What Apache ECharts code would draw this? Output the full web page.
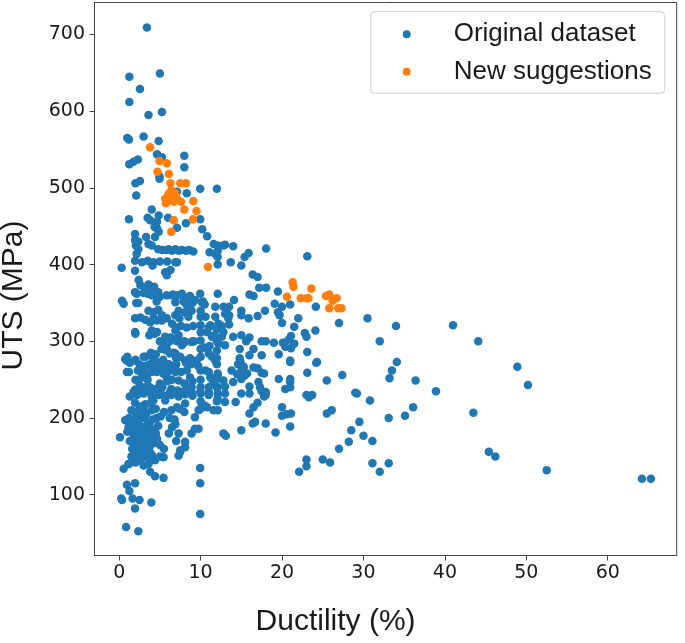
<!DOCTYPE html>
<html>
<head>
<meta charset="utf-8">
<script src="https://cdn.jsdelivr.net/npm/echarts@6/dist/echarts.min.js"></script>
<style>
html,body{margin:0;padding:0;background:#fff;}
#chart{width:685px;height:643px;}
</style>
</head>
<body>
<div id="chart"></div>
<script>
const xTicks = [0, 10, 20, 30, 40, 50, 60];
const yTicks = [100, 200, 300, 400, 500, 600, 700];
const seriesNames = ['Original dataset', 'New suggestions'];
const xTitle = 'Ductility (%)';
const yTitle = 'UTS (MPa)';

const originalPoints = [
[3.4,709],[1.25,645],[5.0,649],[2.55,629],[1.25,612],[3.6,595],[5.25,599],[1.0,565],[1.2,563],[3.0,567],[4.85,561],[4.65,544],[5.25,540],[8.0,542],[2.3,537],[1.75,534],[1.25,531],[4.95,515],[4.95,512],[8.0,527],[2.0,506],[2.55,509],[2.1,490],[9.95,499],[12.0,499],[7.1,495],[8.3,493],[4.0,472],[1.2,459],[3.5,461],[3.8,458],[4.35,449],[4.65,456],[4.85,464],[6.0,461],[9.95,459],[10.2,446],[8.2,454],[7.1,448],[10.8,437],[11.6,427],[11.8,414],[12.8,425],[1.95,440],[2.35,430],[1.95,432],[2.05,425],[2.35,420],[2.15,414],[3.3,436],[3.6,427],[4.4,436],[4.65,447],[4.85,443],[4.0,425],
[4.8,420],[5.3,419],[5.8,419],[6.1,420],[6.5,418],[6.9,420],[7.3,418],[7.7,419],[8.2,418],[8.6,419],[9.1,417],
[1.95,405],[2.8,403],[3.5,405],[4.2,403],[5.0,404],[5.9,404],[6.9,403],[7.1,403],[4.1,399],[5.65,390],[5.85,386],[6.3,393],[0.3,396],[1.95,392],
[12.1,425],[12.1,418],[12.1,410],[12.1,400],[11.1,416],[13.0,426],[14.0,424],[15.9,415],[15.4,410],[15.0,399],[13.7,403],[18.05,421],[23.1,411],[16.4,387],[17.0,384],[17.2,370],[18.05,370],[12.1,362],[19.5,365],[16.0,361],[16.5,359],[14.1,354],[19.1,349],[20.0,345],[21.0,348],[24.15,345],
[2.4,380],[2.6,373],[3.6,374],[4.3,371],[4.8,364],[3.8,362],[1.95,364],[2.15,362],[0.35,353],[0.55,349],[2.35,350],[5.85,360],[6.5,360],[7.7,362],[8.7,359],[9.3,354],[10.15,351],[9.95,362],[6.9,351],[8.1,351],[8.3,347],[3.2,370],
[3.6,340],[4.2,338],[4.8,341],[5.25,334],[5.85,330],[6.9,334],[7.3,340],[8.1,338],[8.9,340],[1.95,330],[2.6,331],[3.2,328],[3.8,325],[4.65,327],[5.25,327],
[10.0,340],[10.0,332],[10.0,321],[10.0,312],[10.0,301],[10.0,290],[10.0,280],[10.6,332],[10.8,312],[11.2,321],[11.8,332],[12.2,323],[12.8,345],[11.4,306],[12.2,297],[12.6,306],
[1.95,312],[4.0,314],[4.35,310],[4.65,312],[6.5,323],[6.9,314],[7.3,308],[7.5,299],[7.7,295],[5.65,306],[6.05,299],[5.85,290],[6.25,284],[8.1,299],[8.9,299],
[13.5,345],[13.2,340],[13.0,336],[13.5,334],[13.4,330],[15.0,340],[15.0,334],[17.9,340],[19.5,338],[19.7,334],[22.0,330],[21.5,319],[22.8,311],[23.0,306],[24.1,314],[27.0,324],[15.9,330],[17.0,333],[20.0,324],[21.1,307],[21.5,297],[20.8,302],[20.1,298],[20.4,293],[21.1,291],
[23.1,286],[24.3,273],[21.0,275],[19.6,283],[19.6,251],
[12.0,300],[13.0,295],[14.0,306],[15.0,308],[16.0,305],[15.6,300],[17.5,300],[18.0,300],[19.0,298],[14.8,290],[16.5,290],[14.8,278],[16.0,282],[17.5,282],[14.6,270],[15.2,265],[17.0,265],[13.8,262],[14.5,257],[15.4,255],[17.8,258],[12.8,312],[13.5,322],[12.6,320],[11.7,308],[11.0,318],[12.0,316],[11.1,294],[10.5,292],[12.0,288],[12.0,278],[12.0,270],[11.0,284],[11.4,280],[11.8,275],
[14.9,273],[15.3,267],[14.9,260],[15.7,258],[16.5,266],[17.5,259],[21.0,273],[24.2,272],[12.1,258],[12.1,256],[12.1,240],[12.1,232],[12.1,225],[12.1,210],[13.0,241],[13.0,232],[13.0,221],[14.0,247],[15.0,251],[15.0,232],[16.0,241],[16.0,232],[17.1,247],[17.3,240],[18.0,234],[18.0,230],[14.3,221],[16.0,206],[16.5,214],[17.0,220],[21.0,251],[21.0,247],[20.4,238],[21.0,240],[23.1,259],[25.5,249],[27.4,256],[29.2,232],[29.0,233],[23.0,230],[23.7,230],[23.3,227],[20.0,214],[20.0,203],[20.6,205],[21.1,206],[21.0,189],[19.2,181],[13.1,177],[15.0,184],[25.5,206],[26.1,210],[29.5,195],[28.5,184],[30.0,177],[28.2,169],[27.0,160],[23.0,146],[23.0,137],[22.1,130],[25.0,146],[25.9,142],
[30.5,330],[34.0,320],[41.0,321],[32.0,300],[44.1,300],[34.1,273],[33.5,262],[33.2,252],[36.4,249],[38.9,235],[48.9,267],[50.2,243],[30.8,223],[31.1,170],[33.1,200],[35.1,203],[36.1,214],[43.5,207],[45.4,156],[46.2,150],[52.5,132],[64.2,121],[65.3,121],[31.1,141],[33.1,141],[32.0,130],
[18.0,193],[16.4,193],[16.7,195],[17.5,235],[17.8,228],
[0.75,277],[0.95,260],[1.95,275],[3.2,280],[3.8,282],[4.2,275],[3.6,269],[3.0,262],[2.8,253],[3.4,256],[4.0,267],[4.6,260],[5.25,271],[5.45,262],[5.85,253],[6.5,267],[6.9,260],[7.3,249],[8.1,275],[8.3,262],[8.7,253],[8.9,240],[6.9,284],[10.6,262],[11.2,253],[12.0,251],[12.8,249],[1.95,237],[3.2,240],
[1.75,234],[2.8,234],[3.8,234],[5.0,234],[6.25,234],[7.7,234],[8.9,234],[9.95,234],[11.0,234],
[1.95,220],[3.2,218],[4.2,223],[5.65,223],[7.1,214],[8.1,219],[10.15,214],[11.6,210],
[0.1,175],[0.75,197],[1.15,188],[1.55,182],[1.95,175],[0.55,134],[1.15,140],[1.95,143],[2.8,149],[3.6,158],[4.2,167],[4.65,173],[4.4,145],[5.45,149],[7.3,151],[7.5,156],[8.1,162],[8.1,169],[8.9,180],[9.3,186],[9.75,186],[3.8,130],[4.4,124],[5.45,122],[0.95,113],[1.95,115],[1.25,105],[0.25,95],[0.35,93],[1.65,95],[2.5,93],[3.95,90],[1.95,82],[0.85,58],[2.35,52.5],[9.95,135],[9.95,115],[9.95,75],[9.3,201],[9.75,210],[10.55,216],[12.8,180],[4.2,146],
[2.0,250],[3.5,250],[5.0,245],[5.9,248],[6.5,250],[8.0,245],[9.0,248],
[2.5,243],[3.8,240],[4.5,238],[5.3,240],[6.4,238],[7.2,236],[8.3,240],
[1.3,228],[2.2,230],[3.0,232],[4.0,228],[4.9,230],[5.6,229],[6.4,230],[7.3,228],[8.1,231],[9.0,229],
[1.5,210],[2.4,210],[3.0,212],[4.0,210],[5.5,208],[6.4,210],[7.4,212],[8.0,208],
[1.2,200],[2.0,198],[2.6,202],[3.1,200],[4.1,198],[4.6,200],[5.1,202],[6.2,200],[6.8,198],
[1.5,190],[2.3,190],[3.1,188],[3.7,192],[4.8,190],[6.5,188],[6.9,192],
[1.0,182],[1.7,180],[2.2,178],[2.8,182],[3.4,180],[3.8,176],[4.5,180],[6.1,180],[7.3,180],
[1.3,170],[2.0,172],[2.5,168],[3.0,170],[3.5,172],[4.0,168],[5.0,165],[7.0,170],
[1.6,160],[2.1,162],[2.7,158],[3.2,160],[3.7,162],[5.5,160],[7.5,158],
[1.5,150],[2.1,152],[2.7,148],[3.3,150],[4.0,152],[5.0,150],
[1.2,140],[2.0,142],[2.5,145],[3.0,138],[3.6,140],
[2.0,185],[2.4,178],[2.8,188],[3.2,175],[3.6,185],[2.2,165],[2.6,172],[3.0,160],[3.4,166],[3.8,155],[1.8,175],[2.5,155],[3.1,150],[2.3,195],[4.3,185],[2.0,168],[2.9,178],[3.5,192],[1.9,158],[2.6,190],[1.7,195],[2.1,205],[2.6,215],[3.3,205],[3.9,220],[4.5,212],
[5.0,300],[5.7,298],[6.2,300],[7.1,300],[8.0,300],[9.0,300],[3.9,285],[4.5,283],[5.2,290],[5.8,288],[6.7,285],[7.5,280],[1.0,280],[2.0,276],[3.0,280],[4.4,275],[5.4,276],[6.1,270],[7.0,278],[8.7,278],[9.5,275],[0.9,275],[1.3,272],[2.5,270],[3.2,268],[3.8,270],[4.8,268],[6.0,268],[7.0,270],[8.2,272],[8.8,270],[9.7,268],[1.2,260],[2.3,262],[2.8,258],[4.0,260],[5.4,258],[6.2,262],[7.0,262],[7.6,260],[10.0,262],[11.0,260],[10.0,250],[11.5,247],[10.0,240],[11.0,240],[12.0,240],[10.0,232],[11.0,230],[10.0,222],[12.0,222],[10.0,212],[10.8,214],
[4.2,330],[7.4,330],[8.5,332],[7.0,318],[7.6,320],[8.3,318],[9.1,320],[2.0,310],[3.7,308],[6.3,305],[7.0,302],[9.2,300],
[3.0,363],[3.5,362],[4.0,360],[5.0,358],[6.6,361],[7.2,360],[8.1,356],[8.6,354],[10.3,352],[2.1,350],[4.6,352],[7.9,352],[8.4,348],[9.0,350],[10.5,348],[11.8,345],
[3.7,370],[4.2,368],[4.5,362]
];

const newPoints = [
[3.8,553],[4.95,535],[5.85,532],[4.7,521],[6.1,518],[6.3,506],[7.5,506],[8.2,506],[6.4,497],[6.15,493],[6.9,493],[5.65,486],[6.4,486],[7.1,486],[5.75,480],[6.7,482],[7.6,482],[6.0,490],[6.6,489],[5.9,483],[9.1,483],[8.0,472],[9.5,470],[9.05,459],[6.7,458],[6.4,443],[10.9,397],
[21.3,377],[21.4,371],[23.6,369],[20.6,358],[22.3,356],[23.0,356],[23.25,356],[25.4,359],[25.8,361],[26.2,353],[26.7,356],[25.8,343],[26.9,343],[27.3,343]
];

const chart = echarts.init(document.getElementById('chart'), null, {renderer: 'canvas'});
const axisColor = '#444';
const tickFont = {fontFamily: 'DejaVu Sans', fontSize: 19, color: '#1a1a1a'};
const titleFont = {fontFamily: 'Liberation Sans', fontSize: 30, color: '#1a1a1a', lineHeight: 30};

chart.setOption({
  animation: false,
  backgroundColor: '#fff',
  grid: {left: 94.5, right: 8.3, top: 2.5, bottom: 87.5, containLabel: false, outerBoundsMode: 'none', show: true, borderColor: axisColor, borderWidth: 1, backgroundColor: 'transparent'},
  legend: {
    orient: 'vertical',
    left: 370.7, top: 11.7,
    padding: [7.6, 13, 6.6, 32],
    itemGap: 7.4,
    itemWidth: 10, itemHeight: 8,
    icon: 'circle',
    borderColor: '#d0d0d0', borderWidth: 1, borderRadius: 4,
    backgroundColor: 'rgba(255,255,255,0.8)',
    textStyle: {fontFamily: 'Liberation Sans', fontSize: 26, color: '#1a1a1a', lineHeight: 30, padding: [0, 0, 0, 37]},
    data: seriesNames
  },
  xAxis: {
    type: 'value', min: -3.03, max: 68.47,
    name: xTitle, nameLocation: 'middle', nameGap: 51,
    nameTextStyle: Object.assign({padding: [0, 100, 0, 0]}, titleFont),
    axisLine: {show: true, onZero: false, lineStyle: {color: axisColor, width: 1}},
    axisTick: {show: true, length: 5, lineStyle: {color: axisColor}, customValues: xTicks},
    axisLabel: Object.assign({margin: 8, customValues: xTicks}, tickFont),
    splitLine: {show: false}
  },
  yAxis: {
    type: 'value', min: 20.8, max: 741.7,
    name: yTitle, nameLocation: 'middle', nameGap: 66,
    nameTextStyle: Object.assign({padding: [0, 33, 0, 0]}, titleFont),
    axisLine: {show: true, onZero: false, lineStyle: {color: axisColor, width: 1}},
    axisTick: {show: true, length: 5, lineStyle: {color: axisColor}, customValues: yTicks},
    axisLabel: Object.assign({margin: 9.5, customValues: yTicks}, tickFont),
    splitLine: {show: false}
  },
  series: [
    {name: seriesNames[0], type: 'scatter', data: originalPoints, symbolSize: 8.5, itemStyle: {color: '#1f77b4', opacity: 1}, silent: true},
    {name: seriesNames[1], type: 'scatter', data: newPoints, symbolSize: 8.5, itemStyle: {color: '#ff7f0e', opacity: 1}, silent: true}
  ]
});
</script>
</body>
</html>
